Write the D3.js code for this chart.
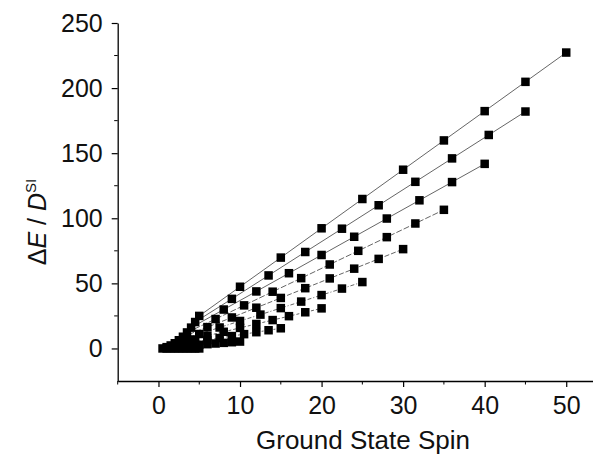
<!DOCTYPE html>
<html>
<head>
<meta charset="utf-8">
<script src="https://cdn.jsdelivr.net/npm/d3@7"></script>
<style>
  body { margin: 0; background: #fff; }
  svg text { font-family: "Liberation Sans", Arial, sans-serif; fill: #111; }
</style>
</head>
<body>
<svg id="chart"></svg>
<script>
// DATA - one series per single-ion spin s (N = 1..10 ions)
const ionSpins = [5, 4.5, 4, 3.5, 3, 2.5, 2, 1.5, 1, 0.5];

const groundSpin = [
  [5, 10, 15, 20, 25, 30, 35, 40, 45, 50],
  [4.5, 9, 13.5, 18, 22.5, 27, 31.5, 36, 40.5, 45],
  [4, 8, 12, 16, 20, 24, 28, 32, 36, 40],
  [3.5, 7, 10.5, 14, 17.5, 21, 24.5, 28, 31.5, 35],
  [3, 6, 9, 12, 15, 18, 21, 24, 27, 30],
  [2.5, 5, 7.5, 10, 12.5, 15, 17.5, 20, 22.5, 25],
  [2, 4, 6, 8, 10, 12, 14, 16, 18, 20],
  [1.5, 3, 4.5, 6, 7.5, 9, 10.5, 12, 13.5, 15],
  [1, 2, 3, 4, 5, 6, 7, 8, 9, 10],
  [0.5, 1, 1.5, 2, 2.5, 3, 3.5, 4, 4.5, 5]
];

const energyRatio = [
  [25.0, 47.4, 69.8, 92.3, 114.8, 137.3, 159.8, 182.3, 204.8, 227.3],
  [20.3, 38.1, 56.1, 74.1, 92.0, 110.0, 128.0, 146.0, 164.0, 182.0],
  [16.0, 29.9, 43.8, 57.8, 71.8, 85.8, 99.8, 113.8, 127.8, 141.8],
  [12.3, 22.6, 33.1, 43.6, 54.0, 64.5, 75.0, 85.5, 96.0, 106.5],
  [9.0, 16.4, 23.8, 31.3, 38.8, 46.3, 53.8, 61.3, 68.8, 76.3],
  [6.3, 11.1, 16.1, 21.1, 26.0, 31.0, 36.0, 41.0, 46.0, 51.0],
  [4.0, 6.9, 9.8, 12.8, 15.8, 18.8, 21.8, 24.8, 27.8, 30.8],
  [2.3, 3.6, 5.1, 6.5, 8.0, 9.5, 11.0, 12.5, 14.0, 15.5],
  [1.0, 1.3, 1.8, 2.3, 2.8, 3.3, 3.8, 4.3, 4.8, 5.3],
  [0, 0, 0, 0, 0, 0, 0, 0, 0, 0]
];

const lineDashes = ["", "", "", "6,2", "5,2", "4,2,1,2", "3,2", "2,2", "1.5,1.5", ""];

const xTicks = [0, 10, 20, 30, 40, 50];
const xMinor = [-5, 5, 15, 25, 35, 45, 55];
const yTicks = [0, 50, 100, 150, 200, 250];
const yMinor = [25, 75, 125, 175, 225];

const width = 593;
const height = 459;

const svg = d3.select("#chart").attr("width", width).attr("height", height);

const x = d3.scaleLinear().domain([-5, 55]).range([117.7, 607]);
const y = d3.scaleLinear().domain([-25, 250]).range([381, 23]);

// AXES
const xAxis = svg.append("g")
  .attr("transform", `translate(0,${y(-25)})`)
  .call(d3.axisBottom(x).tickValues(xTicks).tickSize(6).tickSizeOuter(0).tickPadding(9));

xAxis.selectAll(".minor")
  .data(xMinor)
  .enter()
  .append("line")
  .attr("class", "minor")
  .attr("x1", d => x(d)).attr("x2", d => x(d))
  .attr("y1", 0).attr("y2", 3.5)
  .attr("stroke", "#000");

const yAxis = svg.append("g")
  .attr("transform", `translate(${x(-5)},0)`)
  .call(d3.axisLeft(y).tickValues(yTicks).tickSize(6).tickSizeOuter(0).tickPadding(9));

yAxis.selectAll(".minor")
  .data(yMinor)
  .enter()
  .append("line")
  .attr("class", "minor")
  .attr("y1", d => y(d)).attr("y2", d => y(d))
  .attr("x1", 0).attr("x2", -3.5)
  .attr("stroke", "#000");

svg.selectAll(".domain").attr("stroke", "#000").attr("stroke-width", 1.3);
svg.selectAll(".tick line").attr("stroke", "#000").attr("stroke-width", 1.2);
svg.selectAll(".tick text").attr("font-size", 25).attr("font-family", "Liberation Sans, Arial, sans-serif").attr("fill", "#111");

// LINES + MARKERS
const line = d3.line().x(d => x(d[0])).y(d => y(d[1]));

ionSpins.forEach((s, i) => {
  const pts = groundSpin[i].map((g, j) => [g, energyRatio[i][j]]);
  svg.append("path")
    .datum(pts)
    .attr("d", line)
    .attr("fill", "none")
    .attr("stroke", "#666")
    .attr("stroke-width", 1)
    .attr("stroke-dasharray", lineDashes[i]);
});

ionSpins.forEach((s, i) => {
  const pts = groundSpin[i].map((g, j) => [g, energyRatio[i][j]]);
  svg.append("g")
    .selectAll("rect")
    .data(pts)
    .enter()
    .append("rect")
    .attr("x", d => x(d[0]) - 4.25)
    .attr("y", d => y(d[1]) - 4.25)
    .attr("width", 8.5)
    .attr("height", 8.5)
    .attr("fill", "#000");
});

// LABELS
svg.append("text")
  .attr("x", 363)
  .attr("y", 449)
  .attr("text-anchor", "middle")
  .attr("font-size", 26)
  .text("Ground State Spin");

const yLabel = svg.append("text")
  .attr("transform", "translate(46,222) rotate(-90)")
  .attr("text-anchor", "middle")
  .attr("font-size", 25);
yLabel.append("tspan").text("\u0394");
yLabel.append("tspan").attr("font-style", "italic").text("E");
yLabel.append("tspan").text(" / ");
yLabel.append("tspan").attr("font-style", "italic").text("D");
yLabel.append("tspan").attr("font-size", 15).attr("dy", -10).text("SI");
</script>
</body>
</html>
